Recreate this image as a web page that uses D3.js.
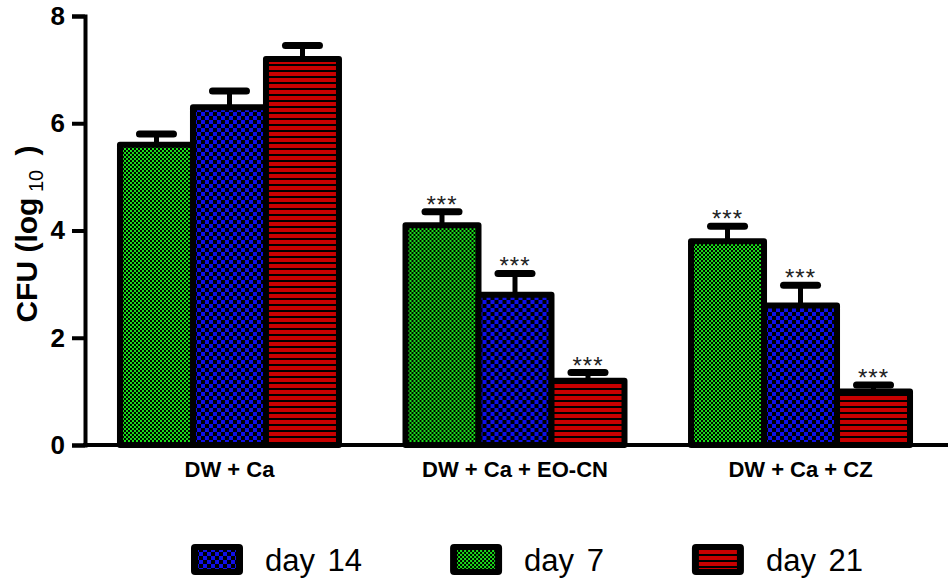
<!DOCTYPE html>
<html>
<head>
<meta charset="utf-8">
<script src="https://cdn.jsdelivr.net/npm/d3@7"></script>
<style>
  body { margin: 0; background: #fff; }
  svg { display: block; font-family: Arial, "Liberation Sans", sans-serif; }
</style>
</head>
<body>
<div id="chart"></div>
<script>
// data
let groups = ["DW + Ca", "DW + Ca + EO-CN", "DW + Ca + CZ"];
let series = ["day 7", "day 14", "day 21"];
let means = {
    "day 7":  [5.6, 4.1, 3.8],
    "day 14": [6.3, 2.8, 2.6],
    "day 21": [7.2, 1.2, 1.0]
};
let errors = {
    "day 7":  [0.2, 0.25, 0.28],
    "day 14": [0.3, 0.4, 0.38],
    "day 21": [0.25, 0.15, 0.12]
};
let stars = {
    "day 7":  ["", "***", "***"],
    "day 14": ["", "***", "***"],
    "day 21": ["", "***", "***"]
};
let yTicks = [0, 2, 4, 6, 8];
let legendOrder = ["day 14", "day 7", "day 21"];

let WIDTH = 950, HEIGHT = 583;

let svg = d3.select("#chart").append("svg")
    .attr("width", WIDTH)
    .attr("height", HEIGHT);

// fill patterns
let defs = svg.append("defs");

let pGreen = defs.append("pattern").attr("id", "p-day7")
    .attr("patternUnits", "userSpaceOnUse").attr("width", 4).attr("height", 4);
pGreen.append("rect").attr("width", 4).attr("height", 4).attr("fill", "#000");
pGreen.append("rect").attr("width", 2).attr("height", 2).attr("fill", "#18e018");
pGreen.append("rect").attr("x", 2).attr("y", 2).attr("width", 2).attr("height", 2).attr("fill", "#18e018");

let pBlue = defs.append("pattern").attr("id", "p-day14")
    .attr("patternUnits", "userSpaceOnUse").attr("width", 8).attr("height", 8);
pBlue.append("rect").attr("width", 8).attr("height", 8).attr("fill", "#000");
pBlue.append("rect").attr("width", 4).attr("height", 4).attr("fill", "#1010e8");
pBlue.append("rect").attr("x", 4).attr("y", 4).attr("width", 4).attr("height", 4).attr("fill", "#1010e8");

let pRed = defs.append("pattern").attr("id", "p-day21")
    .attr("patternUnits", "userSpaceOnUse").attr("width", 6).attr("height", 6);
pRed.append("rect").attr("width", 6).attr("height", 6).attr("fill", "#000");
pRed.append("rect").attr("width", 6).attr("height", 4).attr("fill", "#c80000");

let fillOf = s => "url(#p-" + s.replace(" ", "") + ")";

// scales
let y = d3.scaleLinear().domain([0, 8]).range([445, 16]);

let x0 = d3.scaleBand()
    .domain(groups)
    .range([86, 944])
    .paddingInner(0.233)
    .paddingOuter(0.119);

let x1 = d3.scaleBand()
    .domain(series)
    .range([0, x0.bandwidth()]);

// bars
let rows = [];
groups.forEach((g, i) => {
    series.forEach(s => {
        rows.push({ group: g, series: s, mean: means[s][i], err: errors[s][i], star: stars[s][i] });
    });
});

let bar = svg.selectAll(".bar")
    .data(rows)
    .enter()
    .append("g")
    .attr("transform", d => "translate(" + (x0(d.group) + x1(d.series)) + ",0)");

let bw = x1.bandwidth();

// error bars (drawn first, bar covers the stem base)
bar.append("line")
    .attr("x1", bw / 2).attr("x2", bw / 2)
    .attr("y1", d => y(d.mean)).attr("y2", d => y(d.mean + d.err))
    .attr("stroke", "#000").attr("stroke-width", 5);

bar.append("line")
    .attr("x1", bw / 2 - 17).attr("x2", bw / 2 + 17)
    .attr("y1", d => y(d.mean + d.err)).attr("y2", d => y(d.mean + d.err))
    .attr("stroke", "#000").attr("stroke-width", 7)
    .attr("stroke-linecap", "round");

bar.append("rect")
    .attr("x", 0)
    .attr("y", d => y(d.mean))
    .attr("width", bw)
    .attr("height", d => y(0) - y(d.mean))
    .attr("fill", d => fillOf(d.series))
    .attr("stroke", "#000")
    .attr("stroke-width", 6)
    .attr("stroke-linejoin", "round");

bar.append("text")
    .attr("x", bw / 2)
    .attr("y", d => y(d.mean + d.err) + 1)
    .attr("text-anchor", "middle")
    .attr("font-size", 24)
    .attr("letter-spacing", 1)
    .attr("fill", "#222")
    .text(d => d.star);

// axes
let yAxis = svg.append("g")
    .attr("transform", "translate(85,0)")
    .call(d3.axisLeft(y).tickValues(yTicks).tickSize(13).tickPadding(7).tickFormat(d3.format("d")));
yAxis.select(".domain").attr("stroke", "#000").attr("stroke-width", 4);
yAxis.selectAll(".tick line").attr("stroke", "#000").attr("stroke-width", 4);
yAxis.selectAll(".tick text")
    .attr("font-size", 26).attr("font-weight", "bold").attr("fill", "#000")
    .attr("font-family", "Arial, 'Liberation Sans', sans-serif");

let xAxis = svg.append("g")
    .attr("transform", "translate(0," + y(0) + ")")
    .call(d3.axisBottom(x0).tickSize(0).tickPadding(16));
xAxis.select(".domain").attr("d", "M83,0H948").attr("stroke", "#000").attr("stroke-width", 4);
xAxis.selectAll(".tick text")
    .attr("font-size", 22).attr("font-weight", "bold").attr("fill", "#000")
    .attr("font-family", "Arial, 'Liberation Sans', sans-serif");

// y title
let title = svg.append("text")
    .attr("transform", "translate(37,234) rotate(-90)")
    .attr("text-anchor", "middle")
    .attr("font-size", 30)
    .attr("font-weight", "bold");
title.append("tspan").text("CFU (log");
title.append("tspan").attr("font-size", 20).attr("font-weight", "normal").attr("dy", 6).text(" 10");
title.append("tspan").attr("dy", -6).attr("dx", 6).text(" )");

// legend, laid out item after item
let legend = svg.append("g").attr("transform", "translate(191,544)");
let lx = 0;
legendOrder.forEach(s => {
    let item = legend.append("g").attr("transform", "translate(" + lx + ",0)");
    item.append("rect")
        .attr("width", 52).attr("height", 31).attr("rx", 4)
        .attr("fill", "#000");
    item.append("rect")
        .attr("x", 7).attr("y", 6).attr("width", 38).attr("height", 19)
        .attr("fill", fillOf(s));
    let t = item.append("text")
        .attr("x", 74).attr("y", 27)
        .attr("font-size", 31)
        .attr("word-spacing", 4)
        .attr("fill", "#000")
        .text(s);
    lx += 74 + t.node().getComputedTextLength() + 88;
});
</script>
</body>
</html>
